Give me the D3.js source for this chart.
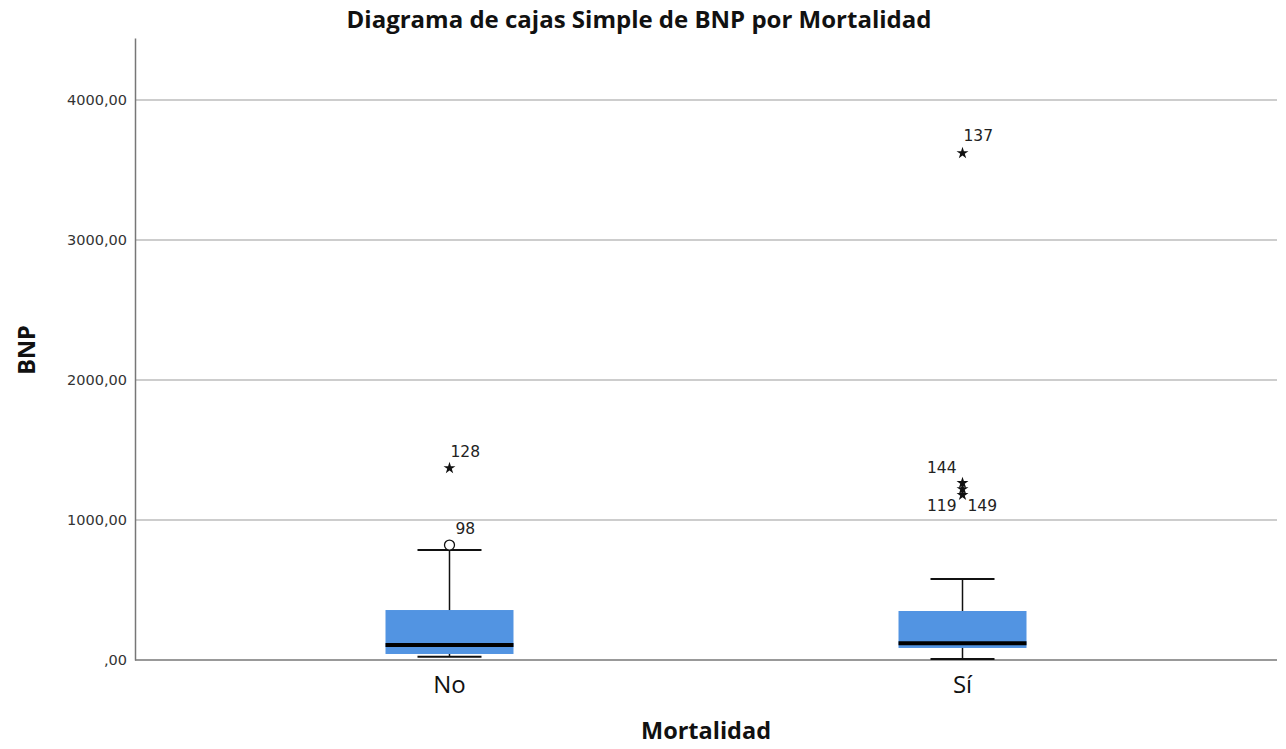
<!DOCTYPE html>
<html>
<head>
<meta charset="utf-8">
<script src="https://cdn.jsdelivr.net/npm/d3@7"></script>
<style>
  body { margin: 0; background: #fff; }
  svg { font-family: "DejaVu Sans", sans-serif; }
</style>
</head>
<body>
<div id="chart"></div>
<script>
// values
const categories = ['No', 'Sí'];
const whiskerLow = [24, 8];
const q1 = [43, 86];
const median = [107, 119];
const q3 = [357, 350];
const whiskerHigh = [786, 579];
const outliers = [
  { cat: 'No', id: '98', value: 821, kind: 'circle' },
  { cat: 'No', id: '128', value: 1371, kind: 'star' },
  { cat: 'Sí', id: '137', value: 3621, kind: 'star' },
  { cat: 'Sí', id: '144', value: 1264, kind: 'star' },
  { cat: 'Sí', id: '119', value: 1221, kind: 'star' },
  { cat: 'Sí', id: '149', value: 1179, kind: 'star' },
];
const yTicks = [0, 1000, 2000, 3000, 4000];

const width = 1286, height = 749;
const margin = { top: 38, right: 11, bottom: 89, left: 137 };
const innerW = width - margin.left - margin.right;
const innerH = height - margin.top - margin.bottom;

const svg = d3.select('#chart').append('svg')
  .attr('width', width).attr('height', height);

const g = svg.append('g').attr('transform', `translate(${margin.left},${margin.top})`);

const x = d3.scaleBand().domain(categories).range([0, innerW]).paddingInner(0.7505).paddingOuter(0.4844);
const y = d3.scaleLinear().domain([0, 4443]).range([innerH, 0]);

const fmt = v => v === 0 ? ',00' : d3.format('d')(v) + ',00';

// gridlines
g.selectAll('line.grid').data(yTicks.filter(d => d > 0)).join('line')
  .attr('class', 'grid')
  .attr('x1', -2).attr('x2', innerW + 2)
  .attr('y1', d => y(d)).attr('y2', d => y(d))
  .attr('stroke', '#bdbdbd').attr('stroke-width', 1.5);

// y axis
const yAxisG = g.append('g').attr('transform', 'translate(-2,0)')
  .call(d3.axisLeft(y).tickValues(yTicks).tickFormat(fmt).tickSize(0).tickPadding(8));
yAxisG.select('.domain').attr('stroke', '#777').attr('stroke-width', 1.5);
yAxisG.selectAll('text').attr('fill', '#333').attr('font-size', 14.5).attr('font-family', '"DejaVu Sans", sans-serif');

// x axis
const xAxisG = g.append('g').attr('transform', `translate(0,${innerH})`)
  .call(d3.axisBottom(x).tickSize(0).tickPadding(16));
xAxisG.select('.domain').attr('stroke', '#777').attr('stroke-width', 1.5)
  .attr('d', `M-2,0H${innerW + 2}`);
xAxisG.selectAll('text').attr('fill', '#111').attr('font-size', 24).attr('font-family', '"Open Sans", sans-serif');

const boxes = categories.map((c, i) => ({
  cat: c, lo: whiskerLow[i], q1: q1[i], med: median[i], q3: q3[i], hi: whiskerHigh[i]
}));

const bw = x.bandwidth();
const cx = c => x(c) + bw / 2;

// whiskers
g.selectAll('line.stem').data(boxes).join('line')
  .attr('x1', d => cx(d.cat)).attr('x2', d => cx(d.cat))
  .attr('y1', d => y(d.lo)).attr('y2', d => y(d.hi))
  .attr('stroke', '#111').attr('stroke-width', 1.5);

['lo', 'hi'].forEach(k => {
  g.selectAll('line.cap-' + k).data(boxes).join('line')
    .attr('x1', d => cx(d.cat) - bw / 4).attr('x2', d => cx(d.cat) + bw / 4)
    .attr('y1', d => y(d[k])).attr('y2', d => y(d[k]))
    .attr('stroke', '#111').attr('stroke-width', 2);
});

// boxes
g.selectAll('rect.box').data(boxes).join('rect')
  .attr('x', d => x(d.cat)).attr('width', bw)
  .attr('y', d => y(d.q3)).attr('height', d => y(d.q1) - y(d.q3))
  .attr('fill', '#5294e2');

g.selectAll('line.med').data(boxes).join('line')
  .attr('x1', d => x(d.cat)).attr('x2', d => x(d.cat) + bw)
  .attr('y1', d => y(d.med)).attr('y2', d => y(d.med))
  .attr('stroke', '#000').attr('stroke-width', 4);

// outliers
const star = d3.symbol().type(d3.symbolStar).size(44);
g.selectAll('path.star').data(outliers.filter(d => d.kind === 'star')).join('path')
  .attr('transform', d => `translate(${cx(d.cat)},${y(d.value)})`)
  .attr('d', star).attr('fill', '#111');

g.selectAll('circle.out').data(outliers.filter(d => d.kind === 'circle')).join('circle')
  .attr('cx', d => cx(d.cat)).attr('cy', d => y(d.value)).attr('r', 5)
  .attr('fill', '#fff').attr('stroke', '#111').attr('stroke-width', 1.3);

// label placement beside each outlier
const labelPos = {
  '98': [6, -11, 'start'], '128': [1, -11, 'start'], '137': [1, -12, 'start'],
  '144': [-6, -10, 'end'], '119': [-6, 22, 'end'], '149': [5, 16, 'start'],
};
g.selectAll('text.olab').data(outliers).join('text')
  .attr('x', d => cx(d.cat) + labelPos[d.id][0])
  .attr('y', d => y(d.value) + labelPos[d.id][1])
  .attr('text-anchor', d => labelPos[d.id][2])
  .attr('font-size', 15.5).attr('fill', '#222')
  .text(d => d.id);

// titles
svg.append('text').attr('x', 639).attr('y', 28).attr('text-anchor', 'middle')
  .attr('font-family', '"Open Sans", sans-serif').attr('font-weight', 'bold').attr('font-size', 24)
  .attr('fill', '#111').text('Diagrama de cajas Simple de BNP por Mortalidad');

svg.append('text').attr('x', margin.left + innerW / 2).attr('y', 739).attr('text-anchor', 'middle')
  .attr('font-family', '"Open Sans", sans-serif').attr('font-weight', 'bold').attr('font-size', 23.5)
  .attr('fill', '#111').text('Mortalidad');

svg.append('text').attr('transform', `translate(35,${350}) rotate(-90)`).attr('text-anchor', 'middle')
  .attr('font-family', '"Open Sans", sans-serif').attr('font-weight', 'bold').attr('font-size', 23.5)
  .attr('fill', '#111').text('BNP');
</script>
</body>
</html>
